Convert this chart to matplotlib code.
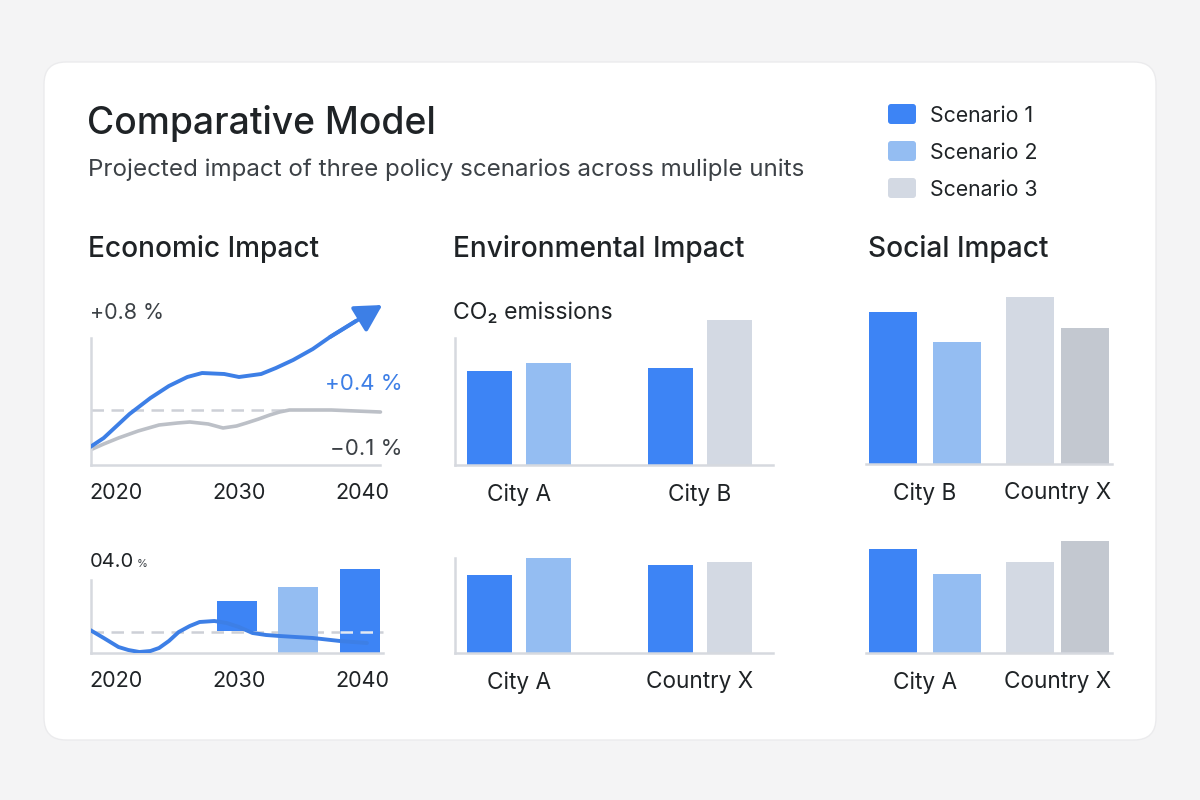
import matplotlib
matplotlib.use("Agg")
import matplotlib.pyplot as plt
from matplotlib.patches import FancyBboxPatch

plt.rcParams['font.family'] = ['Inter', 'DejaVu Sans']

# ---------------- data ----------------
scenario_names = ["Scenario 1", "Scenario 2", "Scenario 3"]
scenario_colors = ["#3d84f5", "#94bdf2", "#d3d9e3"]
dark_grey = "#c3c8d0"

# Economic impact (top): index lines
econ_years_blue = [2017.9, 2019.0, 2021.1, 2022.8, 2024.3, 2025.8, 2027.0, 2028.8, 2030.0, 2031.8, 2033.0, 2034.4, 2036.0, 2037.4, 2039.5, 2041.4]
econ_vals_blue = [0.18, 0.27, 0.51, 0.67, 0.79, 0.88, 0.92, 0.91, 0.88, 0.91, 0.97, 1.05, 1.16, 1.28, 1.44, 1.58]
econ_years_grey = [2017.9, 2019.0, 2020.2, 2021.8, 2023.5, 2025.0, 2026.0, 2027.5, 2028.7, 2029.8, 2030.6, 2031.6, 2032.5, 2033.3, 2034.1, 2035.5, 2037.5, 2041.5]
econ_vals_grey = [0.15, 0.21, 0.27, 0.34, 0.40, 0.42, 0.43, 0.41, 0.37, 0.39, 0.42, 0.46, 0.50, 0.53, 0.55, 0.55, 0.55, 0.53]
econ_baseline_top = 0.55
econ_top_labels = ["+0.8 %", "+0.4 %", "\u22120.1 %"]

# Economic impact (bottom): bars + line
econ_bar_years = [2030, 2035, 2040]
econ_bar_tops = [0.52, 0.66, 0.84]
econ_bar_bottoms = [0.22, 0.0, 0.0]
econ_bar_scen = [0, 1, 0]
econ_years_line2 = [2017.9, 2019.0, 2020.2, 2021.0, 2021.9, 2022.8, 2023.5, 2024.3, 2025.1, 2026.0, 2026.8, 2028.0, 2029.0, 2030.0, 2031.1, 2032.2, 2033.3, 2034.6, 2036.0, 2038.2, 2040.4]
econ_vals_line2 = [0.23, 0.15, 0.06, 0.03, 0.01, 0.02, 0.05, 0.12, 0.21, 0.27, 0.31, 0.32, 0.30, 0.26, 0.20, 0.18, 0.17, 0.16, 0.15, 0.12, 0.10]
econ_baseline_bottom = 0.21
econ_bottom_label = "04.0"

year_ticks = [2020, 2030, 2040]

# Environmental impact
env_top_cats = ["City A", "City B"]
env_top_left = [94, 97]          # Scenario 1
env_top_right = [102, 145]
env_top_right_scen = [1, 2]
env_bot_cats = ["City A", "Country X"]
env_bot_left = [78, 88]
env_bot_right = [95, 91]
env_bot_right_scen = [1, 2]

# Social impact
soc_top_cats = ["City B", "Country X"]
soc_top_vals = [152, 122, 167, 136]
soc_bot_cats = ["City A", "Country X"]
soc_bot_vals = [104, 79, 91, 112]
soc_colors = [scenario_colors[0], scenario_colors[1], scenario_colors[2], dark_grey]

# ---------------- figure ----------------
W, H = 1200, 800
fig = plt.figure(figsize=(12, 8), dpi=100, facecolor="#f4f4f5")

bg = fig.add_axes([0, 0, 1, 1])
bg.set_xlim(0, W)
bg.set_ylim(H, 0)
bg.axis("off")
bg.add_patch(FancyBboxPatch((44, 62), 1112, 678, boxstyle="round,pad=0,rounding_size=22",
                            fc="white", ec="#ebebed", lw=1.0))

TXT = "#1f2326"
SUB = "#3c4146"
AX = "#d6d9df"

bg.text(87, 134, "Comparative Model", fontsize=26.8, fontweight="medium", color=TXT, va="baseline")
bg.text(88, 176, "Projected impact of three policy scenarios across muliple units",
        fontsize=17.4, color=SUB, va="baseline")

for i, (nm, c) in enumerate(zip(scenario_names, scenario_colors)):
    y0 = 104 + i * 37
    bg.add_patch(FancyBboxPatch((888, y0), 28, 20, boxstyle="round,pad=0,rounding_size=3",
                                fc=c, ec="none"))
    bg.text(930, y0 + 10, nm, fontsize=15.3, color=TXT, va="center_baseline")

for x, t in [(88, "Economic Impact"), (453, "Environmental Impact"), (868, "Social Impact")]:
    bg.text(x, 257, t, fontsize=20.2, fontweight="medium", color=TXT, va="baseline")


def px_axes(x0, y0, x1, y1, labelsize=15.5):
    a = fig.add_axes([x0 / W, 1 - y1 / H, (x1 - x0) / W, (y1 - y0) / H])
    a.set_facecolor("none")
    for s in ["top", "right"]:
        a.spines[s].set_visible(False)
    for s in ["left", "bottom"]:
        a.spines[s].set_color(AX)
        a.spines[s].set_linewidth(1.8)
    a.tick_params(length=0, labelsize=labelsize, labelcolor=TXT, pad=13)
    a.set_yticks([])
    return a


BLUE_LINE = "#3d7fe6"
GREY_LINE = "#bcc0c7"
DASH = "#cdd0d7"

# ---- economic top ----
yr0 = 2020 + (91 - 116) / 12.3
yr1 = 2020 + (391 - 116) / 12.3
ax = px_axes(91, 295, 391, 465)
ax.set_xlim(yr0, yr1)
ax.set_ylim(0, 1.70)
ax.spines["left"].set_bounds(0, 1.27)
ax.spines["bottom"].set_bounds(yr0, 2041.5)
ax.plot([yr0, 2034.1], [econ_baseline_top] * 2, color=DASH, lw=1.8, dashes=(5, 3), zorder=1)
ax.plot(econ_years_grey, econ_vals_grey, color=GREY_LINE, lw=2.6, solid_capstyle="round",
        solid_joinstyle="round", zorder=2)
ax.plot(econ_years_blue[:-1], econ_vals_blue[:-1], color=BLUE_LINE, lw=2.8, solid_capstyle="round",
        solid_joinstyle="round", zorder=3)
ax.annotate("", xy=(econ_years_blue[-1] + 0.25, econ_vals_blue[-1] + 0.02),
            xytext=(econ_years_blue[-3], econ_vals_blue[-3]),
            arrowprops=dict(arrowstyle="-|>,head_length=0.9,head_width=0.5", color=BLUE_LINE,
                            lw=2.8, mutation_scale=18, shrinkA=0, shrinkB=0), zorder=4)
ax.set_xticks(year_ticks)
ax.set_xticklabels([str(y) for y in year_ticks])

bg.text(90, 319, econ_top_labels[0], fontsize=15.5, color=SUB, va="baseline")
bg.text(403, 390, econ_top_labels[1], fontsize=16, color=BLUE_LINE, va="baseline", ha="right")
bg.text(403, 455, econ_top_labels[2], fontsize=16, color=SUB, va="baseline", ha="right")

# ---- economic bottom ----
ax = px_axes(91, 560, 391, 653)
ax.set_xlim(yr0, yr1)
ax.set_ylim(0, 0.93)
ax.spines["left"].set_bounds(0, 0.73)
ax.spines["bottom"].set_bounds(yr0, 2041.7)
ax.plot([yr0, 2041.7], [econ_baseline_bottom] * 2, color=DASH, lw=1.8, dashes=(5, 3), zorder=1)
for yx, top, bot, sc in zip(econ_bar_years, econ_bar_tops, econ_bar_bottoms, econ_bar_scen):
    ax.bar(yx - 0.2, top - bot, bottom=bot, width=3.25, color=scenario_colors[sc], zorder=2)
# dashed line visible over the last bar
last = len(econ_bar_years) - 1
ax.plot([econ_bar_years[last] - 0.2 - 1.62, econ_bar_years[last] - 0.2 + 1.62],
        [econ_baseline_bottom] * 2, color="#e3e9f3", lw=1.8, dashes=(5, 3), zorder=3)
ax.plot(econ_years_line2, econ_vals_line2, color=BLUE_LINE, lw=2.8, solid_capstyle="round",
        solid_joinstyle="round", zorder=4)
ax.set_xticks(year_ticks)
ax.set_xticklabels([str(y) for y in year_ticks])
bg.text(90, 567, econ_bottom_label, fontsize=14.5, color=TXT, va="baseline")
bg.text(137, 567, "%", fontsize=8, color=SUB, va="baseline")


# ---- grouped bar helpers ----
def two_bar_panel(rect, xlim, ylim, spine_top, cats, left, right, right_scen, offset, width):
    a = px_axes(*rect, labelsize=16.3)
    a.set_xlim(*xlim)
    a.set_ylim(0, ylim)
    a.spines["left"].set_bounds(0, spine_top)
    for i in range(len(cats)):
        a.bar(i - offset, left[i], width=width, color=scenario_colors[0], zorder=2)
        a.bar(i + offset, right[i], width=width, color=scenario_colors[right_scen[i]], zorder=2)
    a.set_xticks(range(len(cats)))
    a.set_xticklabels(cats)
    return a


env_xlim = (-64 / 181, 1 + 73 / 181)
a = two_bar_panel((455, 295, 773, 465), env_xlim, 170, 127, env_top_cats, env_top_left,
                  env_top_right, env_top_right_scen, 0.165, 0.25)
a = two_bar_panel((455, 530, 773, 653), env_xlim, 123, 95, env_bot_cats, env_bot_left,
                  env_bot_right, env_bot_right_scen, 0.165, 0.25)
bg.text(453, 319, "CO\u2082 emissions", fontsize=16.6, color=TXT, va="baseline")


def four_bar_panel(rect, ylim, cats, vals):
    a = px_axes(*rect, labelsize=16.3)
    a.set_xlim(-59 / 133, 1 + 54 / 133)
    a.set_ylim(0, ylim)
    a.spines["left"].set_visible(False)
    offs = [-0.24, 0.24, -0.21, 0.20]
    grp = [0, 0, 1, 1]
    for v, o, g, c in zip(vals, offs, grp, soc_colors):
        a.bar(g + o, v, width=0.36, color=c, zorder=2)
    a.set_xticks(range(len(cats)))
    a.set_xticklabels(cats)
    return a


four_bar_panel((866, 290, 1112, 464), 174, soc_top_cats, soc_top_vals)
four_bar_panel((866, 530, 1112, 653), 123, soc_bot_cats, soc_bot_vals)

fig.savefig("out.png", dpi=100, facecolor=fig.get_facecolor())
